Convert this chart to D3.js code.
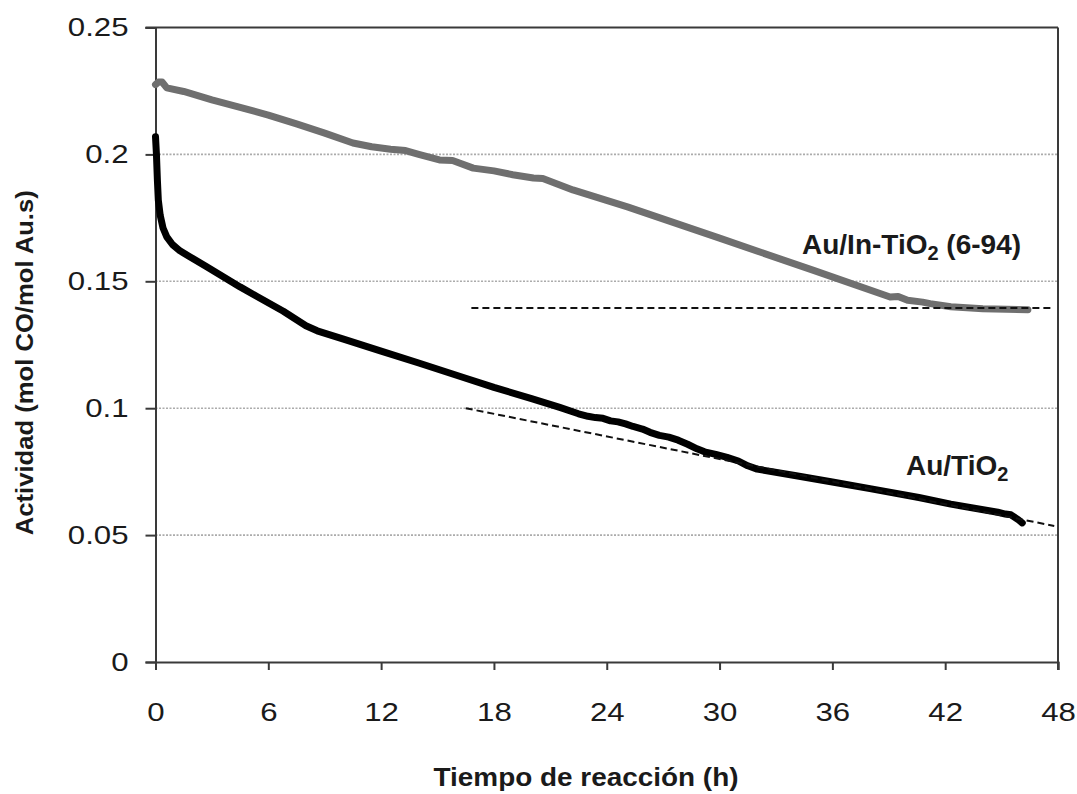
<!DOCTYPE html>
<html>
<head>
<meta charset="utf-8">
<script src="https://cdn.jsdelivr.net/npm/d3@7/dist/d3.min.js"></script>
<style>
  html, body { margin: 0; padding: 0; background: #fff; }
  svg { display: block; }
  text { font-family: "Liberation Sans", Arial, sans-serif; fill: #1a1a1a; }
</style>
</head>
<body>
<svg id="chart" width="1077" height="794"></svg>
<script>
// Au/TiO2 activity vs. time on stream
const auTiO2Time = [0.00, 0.05, 0.10, 0.15, 0.25, 0.40, 0.60, 0.90, 1.3, 1.8, 2.7, 3.6, 4.5, 5.4, 6.8, 8.0, 8.6,
  10, 12, 14, 16.5, 18, 20, 21.5, 22.5, 23.0, 23.4, 23.8, 24.2, 24.6, 25.0, 25.4, 25.9, 26.3, 26.8, 27.3, 27.8,
  28.3, 28.8, 29.2, 29.8, 30.4, 31.0, 31.5, 32.0, 34, 36, 38, 40.6, 42.3, 44.8, 45.2, 45.5, 45.9, 46.1];
const auTiO2Values = [0.207, 0.200, 0.190, 0.182, 0.176, 0.171, 0.1675, 0.1645, 0.162, 0.1598, 0.1558, 0.1518, 0.1478, 0.1440, 0.1382, 0.1325, 0.1305,
  0.1272, 0.1225, 0.1178, 0.1118, 0.1082, 0.1038, 0.1003, 0.0978, 0.0968, 0.0963, 0.0960, 0.0950, 0.0946, 0.0938, 0.0928, 0.0918, 0.0905, 0.0893, 0.0886, 0.0874,
  0.0858, 0.0840, 0.0828, 0.0818, 0.0806, 0.0792, 0.0773, 0.0760, 0.0735, 0.0709, 0.0683, 0.0648, 0.0622, 0.0590, 0.0583, 0.0580, 0.0560, 0.0548];

// Au/In-TiO2 (6-94) activity vs. time on stream
const auInTiO2Time = [0, 0.15, 0.35, 0.6, 1.5, 3, 4.5, 6, 7.5, 9, 10.5, 11.5, 12.5, 13.3, 14, 15.1, 15.8, 16.9, 18.0, 19.0,
  20.1, 20.6, 22.2, 25.1, 30, 35, 39.07, 39.5, 40.0, 40.8, 41.2, 42.3, 44, 46.4];
const auInTiO2Values = [0.2275, 0.2285, 0.2285, 0.2262, 0.2248, 0.2215, 0.2185, 0.2155, 0.2120, 0.2084, 0.2045, 0.2030, 0.2020, 0.2015, 0.2000, 0.1978, 0.1976, 0.1946, 0.1935, 0.1920,
  0.1907, 0.1905, 0.1860, 0.1793, 0.1670, 0.1543, 0.1438, 0.1440, 0.1425, 0.1418, 0.1412, 0.1400, 0.1392, 0.1388];

// Dashed reference lines: [t0, t1] and [v0, v1]
const refAuTiO2Time = [16.5, 47.8];
const refAuTiO2Values = [0.100, 0.0536];
const refAuInTiO2Time = [16.8, 47.8];
const refAuInTiO2Values = [0.1395, 0.1395];

const xTicks = [0, 6, 12, 18, 24, 30, 36, 42, 48];
const yTicks = [0, 0.05, 0.1, 0.15, 0.2, 0.25];
const yTickLabels = ["0", "0.05", "0.1", "0.15", "0.2", "0.25"];

const svg = d3.select("#chart");
const margin = { top: 27.5, right: 19, bottom: 132, left: 155.5 };
const W = 1077, H = 794;
const iw = W - margin.left - margin.right;
const ih = H - margin.top - margin.bottom;

const x = d3.scaleLinear().domain([0, 48]).range([0, iw]);
const y = d3.scaleLinear().domain([0, 0.25]).range([ih, 0]);

const g = svg.append("g").attr("transform", `translate(${margin.left},${margin.top})`);

// horizontal dotted gridlines
g.append("g").selectAll("line")
  .data(yTicks.filter(v => v > 0 && v < 0.25))
  .join("line")
  .attr("x1", 0).attr("x2", iw)
  .attr("y1", d => y(d)).attr("y2", d => y(d))
  .attr("stroke", "#ababab").attr("stroke-width", 1.6)
  .attr("stroke-dasharray", "2,1.5");

// frame: top and right borders
g.append("line").attr("x1", -10).attr("x2", iw).attr("y1", 0).attr("y2", 0)
  .attr("stroke", "#3a3a3a").attr("stroke-width", 2);
g.append("line").attr("x1", iw).attr("x2", iw).attr("y1", 0).attr("y2", ih + 8)
  .attr("stroke", "#3a3a3a").attr("stroke-width", 2);

// axes
const stretch = 1.2;
const xAxis = d3.axisBottom(x).tickValues(xTicks).tickSize(8).tickPadding(33).tickFormat(d3.format("d"));
const yAxis = d3.axisLeft(y).tickValues(yTicks).tickSize(10).tickPadding(17)
  .tickFormat((d, i) => yTickLabels[i]);

const gx = g.append("g").attr("transform", `translate(0,${ih})`).call(xAxis);
const gy = g.append("g").call(yAxis);
[gx, gy].forEach(a => {
  a.select(".domain").attr("stroke", "#3a3a3a").attr("stroke-width", 2);
  a.selectAll(".tick line").attr("stroke", "#3a3a3a").attr("stroke-width", 2);
  a.selectAll(".tick text").attr("font-size", 26).attr("fill", "#1a1a1a")
    .attr("font-family", "'Liberation Sans', Arial, sans-serif")
    .attr("transform", `scale(${stretch},1)`);
});
gx.selectAll(".tick text").attr("dy", "0.71em");
gy.selectAll(".tick text").attr("x", -27 / stretch);

// series
const line = d3.line().x(d => x(d[0])).y(d => y(d[1]));
const auTiO2 = auTiO2Time.map((t, i) => [t, auTiO2Values[i]]);
const auInTiO2 = auInTiO2Time.map((t, i) => [t, auInTiO2Values[i]]);

g.append("path").datum(auInTiO2).attr("d", line)
  .attr("fill", "none").attr("stroke", "#6f6f6f").attr("stroke-width", 7)
  .attr("stroke-linejoin", "round").attr("stroke-linecap", "round");
g.append("path").datum(auTiO2).attr("d", line)
  .attr("fill", "none").attr("stroke", "#000").attr("stroke-width", 7)
  .attr("stroke-linejoin", "round").attr("stroke-linecap", "round");

// dashed reference lines
[[refAuTiO2Time, refAuTiO2Values], [refAuInTiO2Time, refAuInTiO2Values]].forEach(([ts, vs]) => {
  g.append("path").datum(ts.map((t, i) => [t, vs[i]])).attr("d", line)
    .attr("fill", "none").attr("stroke", "#111").attr("stroke-width", 2)
    .attr("stroke-dasharray", "7,4");
});

// series labels
function seriesLabel(px, py, parts) {
  const t = svg.append("text").attr("x", px).attr("y", py)
    .attr("font-size", 28).attr("font-weight", "bold");
  parts.forEach(p => {
    const s = t.append("tspan").text(p.text);
    if (p.sub) s.attr("font-size", 20).attr("dy", 6);
    else if (p.after) s.attr("dy", -6);
  });
}
seriesLabel(802, 254, [{ text: "Au/In-TiO" }, { text: "2", sub: true }, { text: " (6-94)", after: true }]);
seriesLabel(906, 475, [{ text: "Au/TiO" }, { text: "2", sub: true }]);

// axis titles
svg.append("text")
  .attr("transform", `translate(33,${margin.top + ih / 2 + 18}) rotate(-90)`)
  .attr("text-anchor", "middle")
  .attr("font-size", 24).attr("font-weight", "bold")
  .attr("textLength", 345).attr("lengthAdjust", "spacingAndGlyphs")
  .text("Actividad (mol CO/mol Au.s)");

svg.append("text")
  .attr("x", 586).attr("y", 786)
  .attr("text-anchor", "middle")
  .attr("font-family", "'DejaVu Sans Condensed', 'DejaVu Sans', sans-serif")
  .attr("font-size", 25).attr("font-weight", "bold")
  .attr("textLength", 305).attr("lengthAdjust", "spacingAndGlyphs")
  .text("Tiempo de reacción (h)");
</script>
</body>
</html>
